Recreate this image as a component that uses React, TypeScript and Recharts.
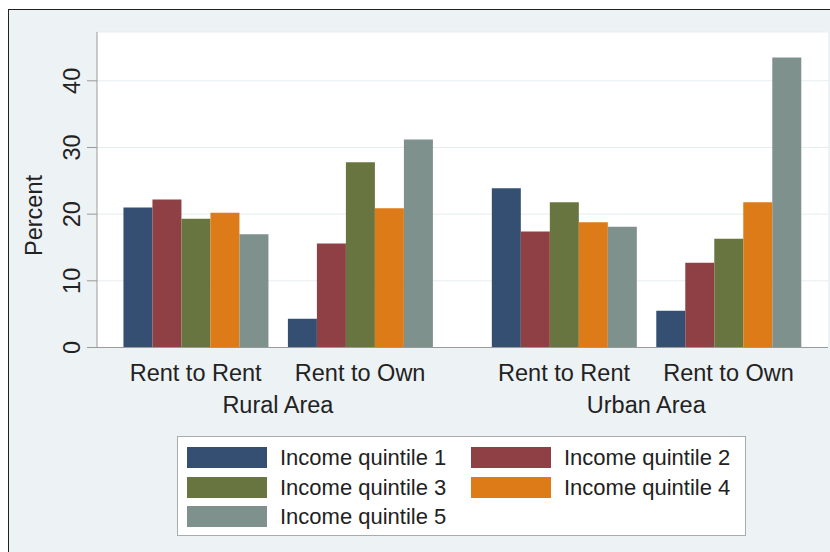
import React from "react";
import { BarChart, Bar, XAxis, YAxis, CartesianGrid, Legend, ReferenceDot } from "recharts";

// Categories (two outcome groups inside each of two areas)
const groupLabels = ["Rent to Rent", "Rent to Own", "Rent to Rent", "Rent to Own"];
const groupPositions = [0, 1, 2.24, 3.24];
const areaLabels = ["Rural Area", "Urban Area"];
const areaPositions = [0.5, 2.74];

// Series values (percent)
const quintile1 = [21.0, 4.3, 23.9, 5.5];
const quintile2 = [22.2, 15.6, 17.4, 12.7];
const quintile3 = [19.3, 27.8, 21.8, 16.3];
const quintile4 = [20.2, 20.9, 18.8, 21.8];
const quintile5 = [17.0, 31.2, 18.1, 43.5];

const seriesNames = [
  "Income quintile 1",
  "Income quintile 2",
  "Income quintile 3",
  "Income quintile 4",
  "Income quintile 5",
];
const seriesKeys = ["q1", "q2", "q3", "q4", "q5"];
const seriesColors = ["#344f72", "#8e4044", "#697541", "#dc7b17", "#7e918c"];
const seriesValues = [quintile1, quintile2, quintile3, quintile4, quintile5];

const yTicks = [0, 10, 20, 30, 40];

const data = groupPositions.map((pos, i) => {
  const row: Record<string, number | string> = { pos, label: groupLabels[i] };
  seriesKeys.forEach((k, s) => {
    row[k] = seriesValues[s][i];
  });
  return row;
});

const FONT = "'Liberation Sans', Arial, Helvetica, sans-serif";
const TEXT = "#222222";

const YTick = (props: any) => {
  const { x, y, payload } = props;
  const bx = x - 7;
  return (
    <text
      x={bx}
      y={y}
      transform={`rotate(-90 ${bx} ${y})`}
      textAnchor="middle"
      fontSize={23.5}
      fontFamily={FONT}
      fill={TEXT}
    >
      {payload.value}
    </text>
  );
};

const GroupTick = (props: any) => {
  const { x, y, index } = props;
  return (
    <text x={x} y={y} dy={16.7} textAnchor="middle" fontSize={23.5} fontFamily={FONT} fill={TEXT}>
      {groupLabels[index]}
    </text>
  );
};

const makeAreaLabel = (text: string) => (props: any) => {
  const vb = props.viewBox || {};
  return (
    <text
      x={vb.x}
      y={vb.y + 65.8}
      textAnchor="middle"
      fontSize={23.5}
      fontFamily={FONT}
      fill={TEXT}
    >
      {text}
    </text>
  );
};

const LegendContent = () => (
  <div
    style={{
      position: "relative",
      width: 569,
      height: 100,
      boxSizing: "border-box",
      border: "1px solid #a9acae",
      background: "#ffffff",
      fontFamily: FONT,
    }}
  >
    {seriesNames.map((name, i) => {
      const col = i % 2;
      const row = Math.floor(i / 2);
      const left = col === 0 ? 9 : 293;
      const top = 10 + row * 29.7;
      return (
        <div key={name} style={{ position: "absolute", left, top, height: 21, display: "flex", alignItems: "center" }}>
          <div style={{ width: 80, height: 21, background: seriesColors[i] }} />
          <span style={{ marginLeft: 13, fontSize: 22, color: TEXT, lineHeight: "21px", whiteSpace: "nowrap" }}>
            {name}
          </span>
        </div>
      );
    })}
  </div>
);

export default function App() {
  return (
    <div style={{ position: "absolute", left: 0, top: 0, width: 830, height: 552 }}>
      <div
        style={{
          position: "absolute",
          left: 8,
          top: 9,
          width: 822,
          height: 543,
          background: "#edf2f5",
          borderTop: "1.5px solid #222",
          borderLeft: "1.5px solid #222",
          boxSizing: "border-box",
        }}
      />
      <div style={{ position: "absolute", left: 0, top: 0 }}>
        <BarChart
          width={830}
          height={552}
          data={data}
          margin={{ top: 32, right: 2, left: 0, bottom: 164.5 }}
          barGap={0}
        >
          <CartesianGrid vertical={false} stroke="#e6edf0" fill="#ffffff" />
          <XAxis
            xAxisId="grp"
            dataKey="pos"
            type="number"
            domain={[-0.6, 3.845]}
            ticks={groupPositions}
            interval={0}
            allowDataOverflow
            height={40}
            tickSize={0}
            tickMargin={16.8}
            tickLine={false}
            axisLine={{ stroke: "#9a9a9a", strokeWidth: 1 }}
            tick={<GroupTick />}
          />
          <YAxis
            type="number"
            domain={[0, 47.32]}
            ticks={yTicks}
            interval={0}
            allowDataOverflow
            width={97}
            tickSize={10}
            tickMargin={0}
            tickLine={{ stroke: "#9a9a9a" }}
            axisLine={{ stroke: "#9a9a9a", strokeWidth: 1 }}
            tick={<YTick />}
            label={{
              content: () => (
                <text
                  x={41.7}
                  y={215.5}
                  transform="rotate(-90 41.7 215.5)"
                  textAnchor="middle"
                  fontSize={23.5}
                  fontFamily={FONT}
                  fill={TEXT}
                >
                  Percent
                </text>
              ),
            }}
          />
          {seriesKeys.map((k, i) => (
            <Bar
              key={k}
              xAxisId="grp"
              dataKey={k}
              name={seriesNames[i]}
              fill={seriesColors[i]}
              barSize={29}
              isAnimationActive={false}
            />
          ))}
          {areaPositions.map((p, i) => (
            <ReferenceDot
              key={areaLabels[i]}
              xAxisId="grp"
              x={p}
              y={0}
              r={0}
              fill="none"
              stroke="none"
              ifOverflow="visible"
              label={{ content: makeAreaLabel(areaLabels[i]) }}
            />
          ))}
          <Legend
            layout="vertical"
            align="center"
            verticalAlign="middle"
            wrapperStyle={{ left: 177, top: 436, width: 569, height: 100 }}
            content={<LegendContent />}
          />
        </BarChart>
      </div>
    </div>
  );
}
